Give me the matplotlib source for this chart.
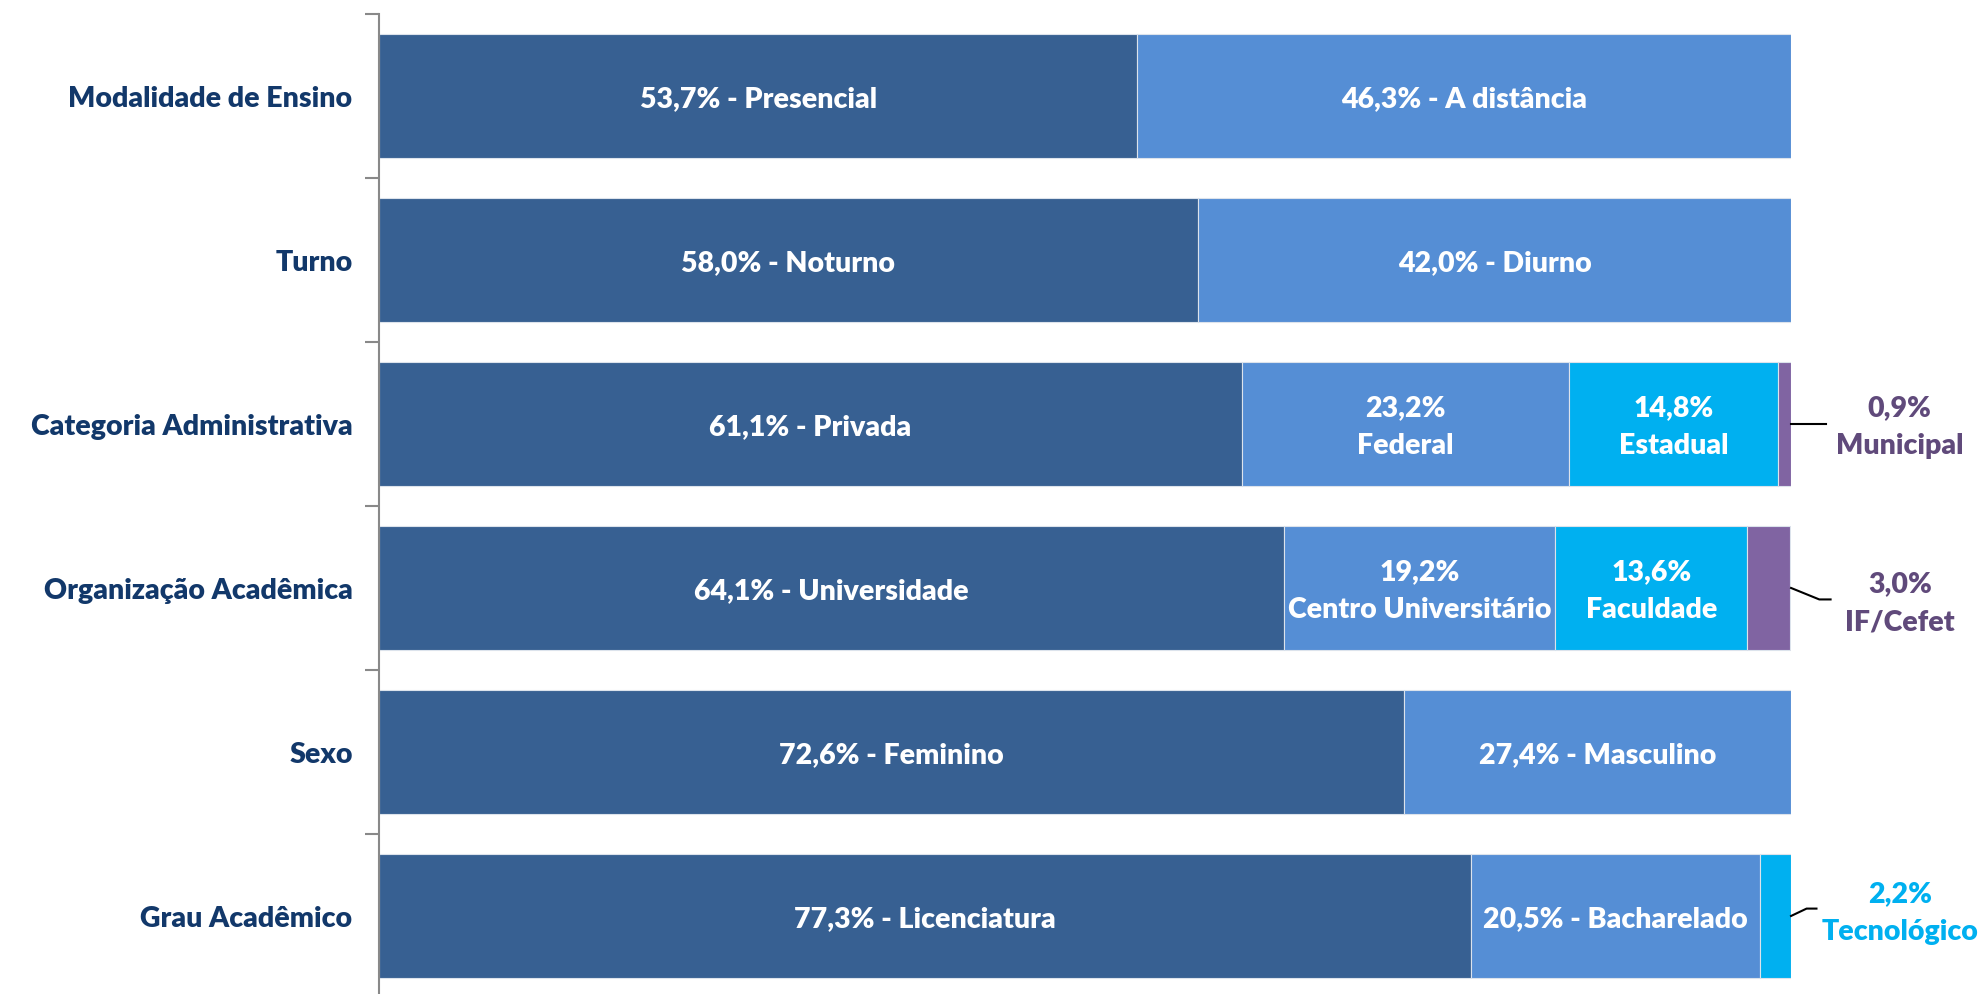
import matplotlib
matplotlib.use('Agg')
import matplotlib.pyplot as plt

plt.rcParams['font.family'] = ['Lato', 'DejaVu Sans']
plt.rcParams['font.weight'] = 'heavy'

# Perfil das matrículas por característica
categories = ['Modalidade de Ensino', 'Turno', 'Categoria Administrativa',
              'Organização Acadêmica', 'Sexo', 'Grau Acadêmico']
values = [
    [53.7, 46.3],
    [58.0, 42.0],
    [61.1, 23.2, 14.8, 0.9],
    [64.1, 19.2, 13.6, 3.0],
    [72.6, 27.4],
    [77.3, 20.5, 2.2],
]
names = [
    ['Presencial', 'A distância'],
    ['Noturno', 'Diurno'],
    ['Privada', 'Federal', 'Estadual', 'Municipal'],
    ['Universidade', 'Centro Universitário', 'Faculdade', 'IF/Cefet'],
    ['Feminino', 'Masculino'],
    ['Licenciatura', 'Bacharelado', 'Tecnológico'],
]

seg_colors = ['#376092', '#558ED5', '#00B0F0', '#8064A2']
out_text_colors = {'#8064A2': '#604A7B', '#00B0F0': '#00B0F0'}
label_color = '#12386A'
fs = 20.5
ls = 1.55
dy_txt = 0.012  # leve ajuste vertical dos textos

# rótulos externos: (deslocamento do texto em y, pontos da linha de chamada)
outside = {
    'Municipal': (0.0, [(100, 0.0), (102.5, 0.0)]),
    'IF/Cefet': (0.075, [(100, 0.0), (102.0, 0.07), (102.8, 0.07)]),
    'Tecnológico': (-0.035, [(100, 0.0), (101.1, -0.045), (101.8, -0.045)]),
}

def fmt(v):
    return f'{v:.1f}%'.replace('.', ',')

fig = plt.figure(figsize=(19.83, 9.95), dpi=100)
ax = fig.add_axes([0.1911, -0.004, 0.7121, 0.989])

for i, (vals, labs) in enumerate(zip(values, names)):
    left = 0
    for j, (v, lab) in enumerate(zip(vals, labs)):
        color = seg_colors[j]
        ax.barh(i, v, left=left, height=0.76, color=color,
                edgecolor='#DCE3EC', linewidth=0.8)
        cx = left + v / 2
        if lab in outside:
            dy, pts = outside[lab]
            ax.plot([p[0] for p in pts], [i + p[1] for p in pts],
                    color='black', lw=1.5, clip_on=False)
            ax.text(107.7, i + dy + dy_txt, f'{fmt(v)}\n{lab}', ha='center',
                    va='center', color=out_text_colors[color], fontsize=fs,
                    linespacing=ls, clip_on=False)
        elif len(vals) == 4 and j > 0:
            ax.text(cx, i + dy_txt, f'{fmt(v)}\n{lab}', ha='center', va='center',
                    color='white', fontsize=fs, linespacing=ls)
        else:
            ax.text(cx, i + dy_txt, f'{fmt(v)} - {lab}', ha='center',
                    va='center', color='white', fontsize=fs)
        left += v

ax.set_xlim(0, 100)
ax.set_ylim(len(categories) - 0.5, -0.5)

# marcas nas divisões entre categorias, nomes no centro
ax.set_yticks([k - 0.5 for k in range(len(categories) + 1)])
ax.set_yticklabels([])
ax.set_yticks(range(len(categories)), minor=True)
ax.set_yticklabels(categories, minor=True, fontsize=fs, color=label_color)
ax.tick_params(axis='y', which='major', length=10, width=1.5, color='#898989')
ax.tick_params(axis='y', which='minor', length=0, pad=19)
ax.set_xticks([])

for side in ['top', 'right', 'bottom']:
    ax.spines[side].set_visible(False)
ax.spines['left'].set_color('#898989')
ax.spines['left'].set_linewidth(1.5)

fig.savefig('out.png', dpi=100)
